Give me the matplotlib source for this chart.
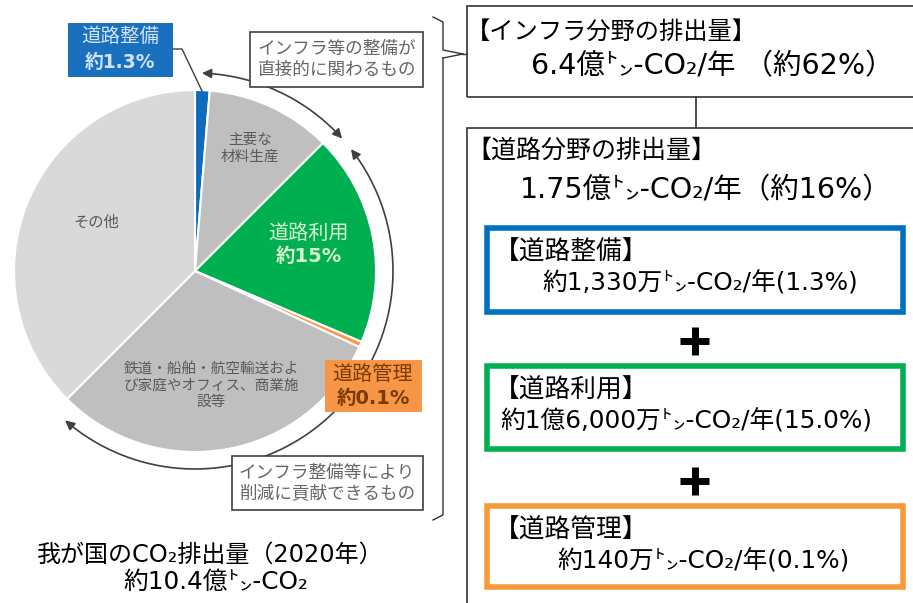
import numpy as np
import matplotlib
matplotlib.use("Agg")
import matplotlib.pyplot as plt
from matplotlib.patches import FancyArrowPatch, Rectangle
from matplotlib.path import Path

plt.rcParams['font.family'] = ['DejaVu Sans', 'Noto Sans CJK JP']

# ---- data (slice shares as drawn, percent) ----
slice_names = ['道路整備', '主要な\n材料生産', '道路利用', '道路管理',
               '鉄道・船舶・航空輸送およ\nび家庭やオフィス、商業施\n設等', 'その他']
slice_values = [1.3, 11.2, 18.9, 0.5, 30.6, 37.5]
slice_colors = ['#0f6cbd', '#bfbfbf', '#00b050', '#f79646', '#bfbfbf', '#d9d9d9']

label_road_build = ['道路整備', '約1.3%']
label_road_use = ['道路利用', '約15%']
label_road_mgmt = ['道路管理', '約0.1%']
note_direct = 'インフラ等の整備が\n直接的に関わるもの'
note_reduce = 'インフラ整備等により\n削減に貢献できるもの'

caption = ['我が国のCO₂排出量（2020年）', '約10.4億㌧-CO₂']

infra_title = '【インフラ分野の排出量】'
infra_value = '6.4億㌧-CO₂/年 （約62%）'
road_title = '【道路分野の排出量】'
road_value = '1.75億㌧-CO₂/年（約16%）'
sub_titles = ['【道路整備】', '【道路利用】', '【道路管理】']
sub_values = ['約1,330万㌧-CO₂/年(1.3%)', '約1億6,000万㌧-CO₂/年(15.0%)',
              '約140万㌧-CO₂/年(0.1%)']
sub_colors = ['#0070c0', '#00b050', '#f79a38']

W, H = 913, 603
fig = plt.figure(figsize=(W / 100, H / 100), dpi=100)
ax = fig.add_axes([0, 0, 1, 1])


def Y(py):
    return H - py


CX, CY, R = 195, 271, 181
ax.pie(slice_values, colors=slice_colors, startangle=90, counterclock=False,
       center=(CX, Y(CY)), radius=R,
       wedgeprops=dict(edgecolor='white', linewidth=1.5))
ax.set_xlim(0, W)
ax.set_ylim(0, H)
ax.set_aspect('equal')
ax.axis('off')

# slice texts
ax.text(250, Y(148), slice_names[1], ha='center', va='center', fontsize=10.5,
        color='#595959', linespacing=1.2)
ax.text(96, Y(222), slice_names[5], ha='center', va='center', fontsize=11,
        color='#595959')
ax.text(211, Y(385), slice_names[4], ha='center', va='center', fontsize=10.5,
        color='#595959', linespacing=1.15)


def two_lines(x, y1, y2, lines, color, fs):
    ax.text(x, Y(y1), lines[0], ha='center', va='center', fontsize=fs, color=color)
    ax.text(x, Y(y2), lines[1], ha='center', va='center', fontsize=fs - 0.5,
            color=color, fontweight='bold')


two_lines(309, 233, 257, label_road_use, '#d8f5d0', 14.5)


# arcs with arrows
def arc(a0, a1, r):
    t = np.radians(np.linspace(a0, a1, 80))
    xs = CX + r * np.sin(t)
    ys = Y(CY) + r * np.cos(t)
    return Path(np.column_stack([xs, ys]))


for a0, a1 in [(2, 48), (52, 221)]:
    ax.add_patch(FancyArrowPatch(path=arc(a0, a1, 198), arrowstyle='<|-|>',
                                 mutation_scale=14, color='#404040', lw=1.2))

# blue label
ax.add_patch(Rectangle((68, Y(77)), 105, 54, facecolor='#1a6fbf', edgecolor='none'))
two_lines(120, 36, 62, label_road_build, '#cfe4f7', 14)
ax.plot([173, 182, 202], [Y(49), Y(49), Y(91)], color='#404040', lw=1.0)

# orange label
ax.add_patch(Rectangle((325, Y(412)), 97, 52, facecolor='#f79646', edgecolor='none'))
two_lines(373, 374, 398, label_road_mgmt, '#7a3b00', 14.5)

# note boxes
ax.add_patch(Rectangle((250, Y(87)), 173, 55, facecolor='white', edgecolor='#404040', lw=1.2))
ax.text(337, Y(59), note_direct, ha='center', va='center', fontsize=12.7,
        color='#666666', linespacing=1.2)
ax.add_patch(Rectangle((232, Y(510)), 191, 54, facecolor='white', edgecolor='#404040', lw=1.2))
ax.text(327, Y(483), note_reduce, ha='center', va='center', fontsize=12.7,
        color='#666666', linespacing=1.2)

# curly brace
ax.plot([433, 443, 443, 463], [Y(17), Y(22), Y(50), Y(54)], color='#333333', lw=1.0)
ax.plot([443, 443, 433], [Y(58), Y(515), Y(520)], color='#333333', lw=1.0)
ax.plot([443, 463], [Y(58), Y(54)], color='#333333', lw=1.0)
ax.plot([463, 467], [Y(54), Y(54)], color='#333333', lw=1.0)

# caption
ax.text(210, Y(555), caption[0], ha='center', va='center', fontsize=17.3)
ax.text(216, Y(582), caption[1], ha='center', va='center', fontsize=17.8)

# right boxes
ax.add_patch(Rectangle((467, Y(97)), 460, 91, facecolor='none', edgecolor='#333333', lw=1.2))
ax.text(466, Y(32), infra_title, ha='left', va='center', fontsize=17.5)
ax.text(712, Y(66), infra_value, ha='center', va='center', fontsize=20.5)
ax.plot([696, 696], [Y(97), Y(128)], color='#333333', lw=1.2)
ax.add_patch(Rectangle((467, Y(620)), 460, 492, facecolor='none', edgecolor='#333333', lw=1.2))
ax.text(466, Y(151), road_title, ha='left', va='center', fontsize=18)
ax.text(706, Y(190), road_value, ha='center', va='center', fontsize=20.5)

box_tops = [228, 366, 506]
box_bottoms = [312, 449, 587]
value_x = [700, 686, 703]
for i in range(3):
    top, bot = box_tops[i], box_bottoms[i]
    ax.add_patch(Rectangle((487, Y(bot)), 416, bot - top, facecolor='white',
                           edgecolor=sub_colors[i], lw=4))
    ax.text(494, Y(top + 25), sub_titles[i], ha='left', va='center', fontsize=18.5)
    ax.text(value_x[i], Y(top + 55), sub_values[i], ha='center', va='center', fontsize=17.8)

for py in [341, 481]:
    ax.plot([680, 709], [Y(py), Y(py)], color='black', lw=5, solid_capstyle='butt')
    ax.plot([694.5, 694.5], [Y(py - 14), Y(py + 14)], color='black', lw=5, solid_capstyle='butt')

fig.savefig('out.png', dpi=100)
